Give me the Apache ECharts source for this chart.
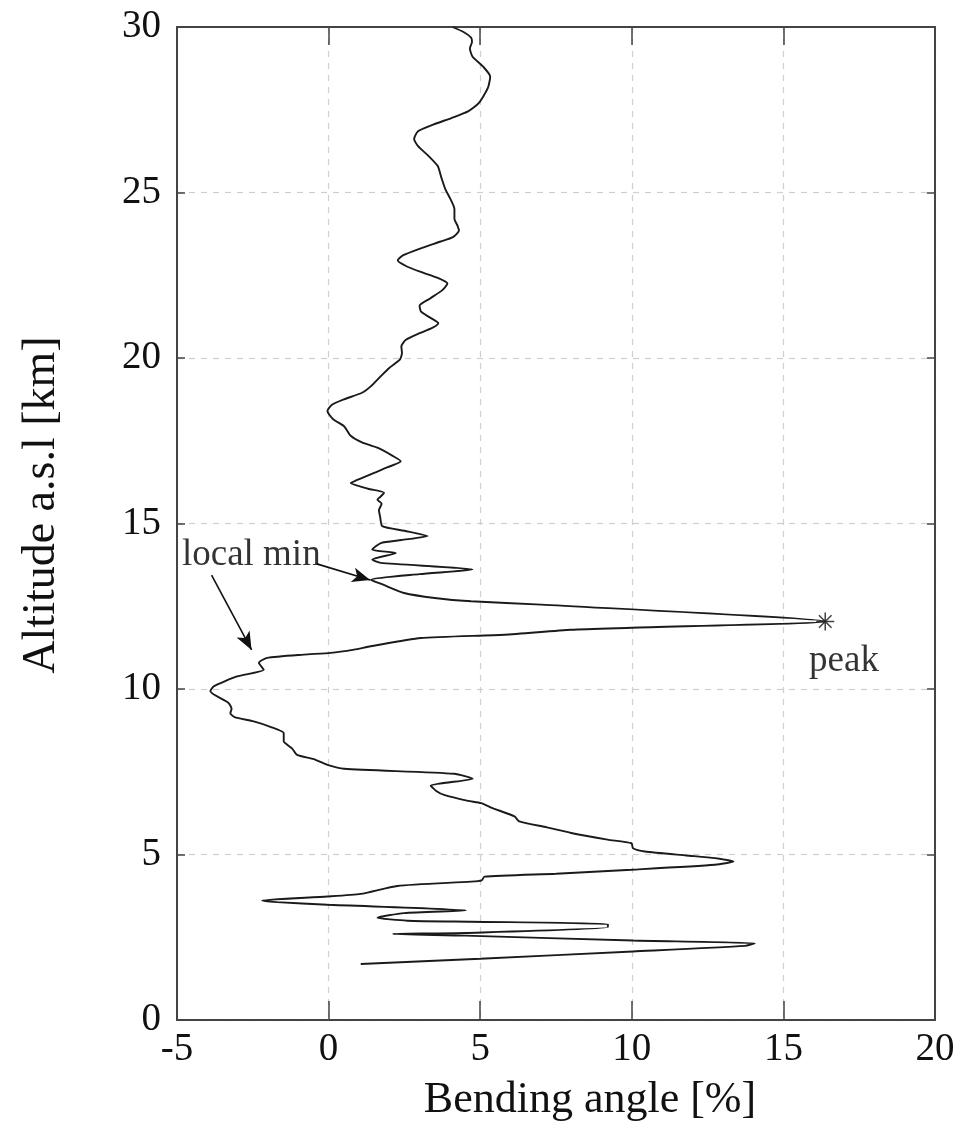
<!DOCTYPE html>
<html>
<head>
<meta charset="utf-8">
<script src="https://cdn.jsdelivr.net/npm/echarts@6/dist/echarts.min.js"></script>
<style>
html,body{margin:0;padding:0;background:#fff;}
#chart{width:964px;height:1133px;}
</style>
</head>
<body>
<div id="chart"></div>
<script>
// Bending angle [%] (x) versus altitude [km] (y), profile ordered from top to bottom
const bendingAngle = [
  4.09,4.45,4.70,4.73,4.66,4.75,5.10,5.33,5.25,4.95,4.60,4.05,3.45,2.95,2.82,2.95,3.30,3.60,3.72,3.85,
  4.02,4.15,4.15,4.25,4.30,4.10,3.70,3.00,2.45,2.28,2.55,3.04,3.60,3.92,3.75,3.35,3.00,3.05,3.35,3.62,
  3.40,3.00,2.55,2.40,2.42,2.35,2.00,1.72,1.40,1.10,0.51,0.10,-0.04,0.15,0.51,0.73,1.10,1.61,2.10,2.38,
  1.95,1.50,0.90,0.73,1.30,1.83,1.70,1.61,1.75,1.66,1.70,1.77,2.50,3.26,2.40,1.72,1.44,2.22,1.44,1.72,
  4.75,3.00,1.39,1.80,2.49,3.50,4.70,7.01,16.38,10.00,8.00,5.80,3.04,1.39,0.84,0.07,-0.82,-2.03,-2.30,-2.14,
  -3.02,-3.79,-3.90,-3.30,-3.20,-3.24,-3.10,-2.47,-1.90,-1.48,-1.48,-1.48,-1.20,-1.04,-0.49,-0.04,0.51,4.14,4.75,3.37,
  3.55,3.81,4.60,5.03,5.41,6.13,6.29,7.20,8.00,9.20,9.99,10.04,10.43,11.80,12.74,13.35,12.74,9.99,7.50,5.14,
  5.05,4.70,2.27,1.06,-0.04,-2.19,-1.70,-0.04,4.53,2.49,1.61,2.60,4.70,9.21,9.21,4.50,2.11,4.50,10.04,14.06,
  13.73,10.04,5.00,1.06
];
const altitude = [
  30.00,29.85,29.68,29.55,29.35,29.10,28.80,28.50,28.15,27.70,27.45,27.25,27.05,26.85,26.62,26.40,26.10,25.80,25.45,25.10,
  24.80,24.50,24.20,24.00,23.85,23.65,23.52,23.30,23.10,22.95,22.78,22.60,22.42,22.25,22.05,21.80,21.58,21.40,21.22,21.05,
  20.90,20.75,20.55,20.35,20.15,19.95,19.70,19.45,19.15,18.95,18.75,18.58,18.40,18.15,17.94,17.65,17.45,17.29,17.05,16.88,
  16.70,16.53,16.30,16.22,16.05,15.93,15.80,15.72,15.60,15.40,15.20,14.92,14.78,14.62,14.50,14.41,14.21,14.11,13.91,13.81,
  13.61,13.47,13.30,13.15,12.90,12.75,12.65,12.55,12.04,11.85,11.79,11.64,11.54,11.29,11.19,11.09,11.04,10.94,10.79,10.58,
  10.38,10.08,9.93,9.58,9.40,9.27,9.15,9.02,8.85,8.67,8.55,8.42,8.20,8.01,7.88,7.71,7.59,7.44,7.29,7.08,
  6.92,6.80,6.62,6.55,6.40,6.15,6.00,5.82,5.65,5.45,5.34,5.19,5.09,4.97,4.89,4.79,4.69,4.54,4.42,4.33,
  4.22,4.18,4.05,3.81,3.73,3.61,3.56,3.48,3.31,3.23,3.09,3.00,2.97,2.90,2.80,2.63,2.60,2.55,2.40,2.32,
  2.24,2.07,1.85,1.69
];
const peakPoint = [16.38, 12.04];
const annotations = [
  { text: 'local min', x: -2.55, y: 14.05 },
  { text: 'peak', x: 17.0, y: 10.85 }
];
const arrows = [
  { from: [-0.39, 13.78], to: [1.37, 13.29] },
  { from: [-3.86, 13.44], to: [-2.54, 11.18] }
];
const xTicks = { min: -5, max: 20, interval: 5 };
const yTicks = { min: 0, max: 30, interval: 5 };

const profile = bendingAngle.map((v, i) => [v, altitude[i]]);

const FONT = "'Liberation Serif','Times New Roman',serif";
const chart = echarts.init(document.getElementById('chart'), null, { renderer: 'canvas' });

const frameLine = { show: true, onZero: false, lineStyle: { color: '#444', width: 2 } };
const splitDash = { show: true, lineStyle: { color: '#cfcfcf', type: [6, 6], width: 1.2 } };

chart.setOption({
  backgroundColor: '#ffffff',
  animation: false,
  grid: { left: 177, right: 29, top: 27, bottom: 113, containLabel: false },
  xAxis: [
    {
      type: 'value', position: 'bottom', min: xTicks.min, max: xTicks.max, interval: xTicks.interval,
      axisLine: frameLine,
      axisTick: { show: true, inside: true, length: 19, lineStyle: { color: '#444', width: 1.5 } },
      axisLabel: { fontFamily: FONT, fontSize: 39, color: '#111', margin: 10 },
      splitLine: splitDash
    },
    {
      type: 'value', position: 'top', min: xTicks.min, max: xTicks.max, interval: xTicks.interval,
      axisLine: frameLine,
      axisTick: { show: true, inside: true, length: 18, lineStyle: { color: '#444', width: 1.5 } },
      axisLabel: { show: false },
      splitLine: { show: false }
    }
  ],
  yAxis: [
    {
      type: 'value', position: 'left', min: yTicks.min, max: yTicks.max, interval: yTicks.interval,
      axisLine: frameLine,
      axisTick: { show: true, inside: true, length: 8, lineStyle: { color: '#444', width: 1.5 } },
      axisLabel: { fontFamily: FONT, fontSize: 39, color: '#111', margin: 16 },
      splitLine: splitDash
    },
    {
      type: 'value', position: 'right', min: yTicks.min, max: yTicks.max, interval: yTicks.interval,
      axisLine: frameLine,
      axisTick: { show: true, inside: true, length: 8, lineStyle: { color: '#444', width: 1.5 } },
      axisLabel: { show: false },
      splitLine: { show: false }
    }
  ],
  series: [
    {
      type: 'line',
      data: profile,
      symbol: 'none',
      smooth: 0.2,
      lineStyle: { color: '#1a1a1a', width: 1.9 },
      z: 3,
      markLine: {
        silent: true,
        symbol: ['none', 'arrow'],
        symbolSize: [11, 18],
        label: { show: false },
        lineStyle: { color: '#111', width: 1.6, type: 'solid' },
        data: arrows.map(a => [{ coord: a.from }, { coord: a.to }])
      }
    },
    {
      type: 'scatter',
      data: [peakPoint],
      symbol: 'path://M0,-10L0,10M-10,0L10,0M-7,-7L7,7M-7,7L7,-7',
      symbolSize: 18,
      itemStyle: { color: 'none', borderColor: '#111', borderWidth: 1.5 },
      z: 4
    },
    {
      type: 'scatter',
      data: annotations.map(a => ({ value: [a.x, a.y], name: a.text })),
      symbolSize: 0,
      label: {
        show: true, position: 'inside', formatter: p => p.name,
        fontFamily: FONT, fontSize: 37, color: '#000'
      },
      z: 5
    }
  ],
  graphic: [
    {
      type: 'text', x: 590, y: 1100,
      style: { text: 'Bending angle [%]', font: "44px 'Liberation Serif','Times New Roman',serif",
               fill: '#111', textAlign: 'center', textVerticalAlign: 'middle' }
    },
    {
      type: 'text', x: 42, y: 505, rotation: Math.PI / 2,
      style: { text: 'Altitude a.s.l [km]', font: "46px 'Liberation Serif','Times New Roman',serif",
               fill: '#111', textAlign: 'center', textVerticalAlign: 'middle' }
    }
  ]
});
</script>
</body>
</html>
